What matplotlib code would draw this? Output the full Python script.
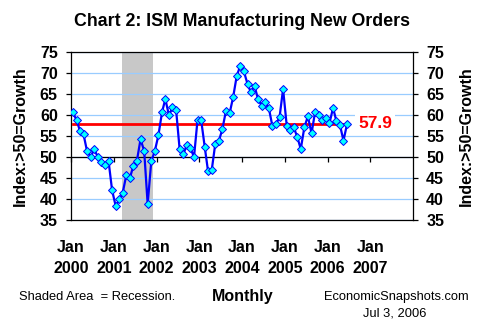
"""Chart 2: ISM Manufacturing New Orders (monthly, Jan 2000 - Jun 2006)."""

import numpy as np
import pandas as pd
import matplotlib
matplotlib.use("Agg")
import matplotlib.pyplot as plt

plt.rcParams["font.family"] = ["Liberation Sans", "DejaVu Sans"]

# ---- data ----
start_month = "2000-01"
new_orders = [
    60.6, 58.8, 56.3, 55.4, 51.4, 50.0, 51.9, 50.0, 48.7, 48.1, 49.0, 42.1,  # 2000
    38.3, 39.9, 41.4, 45.6, 44.9, 47.9, 49.1, 54.2, 51.5, 38.8, 49.0, 51.4,  # 2001
    55.2, 60.7, 63.8, 59.9, 61.8, 61.2, 51.9, 50.6, 52.9, 52.1, 50.0, 58.8,  # 2002
    58.8, 52.3, 46.6, 46.8, 53.0, 53.8, 56.6, 61.0, 60.4, 64.2, 69.3, 71.7,  # 2003
    70.4, 67.4, 65.4, 66.9, 63.8, 62.2, 63.0, 61.7, 57.3, 57.8, 59.5, 66.2,  # 2004
    57.5, 56.4, 57.1, 54.8, 51.9, 57.1, 59.7, 55.6, 60.8, 60.0, 58.8, 59.2,  # 2005
    58.0, 61.7, 58.6, 57.6, 53.9, 57.9,                                      # 2006
]
latest_value = 57.9
recession = ("2001-03-16", "2001-11-30")
year_ticks = list(range(2000, 2008))
tick_labels = [f"Jan\n{y}" for y in year_ticks]
y_ticks = list(range(35, 80, 5))

dates = pd.date_range(start_month, periods=len(new_orders), freq="MS") + pd.Timedelta(days=16)

# ---- figure ----
fig = plt.figure(figsize=(4.85, 3.35), dpi=100)
ax = fig.add_axes([71 / 485, 1 - 220 / 335, (413 - 71) / 485, (220 - 52) / 335])

ax.set_xlim(pd.Timestamp("2000-01-01"), pd.Timestamp("2008-01-01"))
ax.set_ylim(35, 75)

ax.axvspan(pd.Timestamp(recession[0]), pd.Timestamp(recession[1]),
           color="#C8C8C8", lw=0, zorder=0)

ax.set_yticks(y_ticks)
ax.yaxis.grid(True, color="#99CCFF", lw=0.9, zorder=1)
ax.set_axisbelow(True)
ax.axhline(50, color="black", lw=0.9, zorder=2)

ax.plot([dates[0], dates[-1]], [latest_value, latest_value],
        color="#FF0000", lw=2.0, zorder=3)
ax.plot(dates, new_orders, color="#0000FF", lw=1.6, marker="D", ms=4.3,
        mfc="#00FFFF", mec="#0000FF", mew=0.7, zorder=4)

ax.text(pd.Timestamp("2007-02-10"), latest_value, f"{latest_value:.1f}",
        color="#FF0000", fontsize=12.5, fontweight="bold", ha="center", va="center",
        bbox=dict(facecolor="white", edgecolor="none", pad=2.4), zorder=5)

# x axis: labels below the frame, ticks on the 50 line
xt = [pd.Timestamp(f"{y}-01-01") for y in year_ticks]
ax.set_xticks(xt)
ax.set_xticklabels(tick_labels, fontsize=11.5, fontweight="bold", linespacing=1.45)
ax.tick_params(axis="x", length=0, pad=14.5)

sec = ax.secondary_xaxis(0.375)
sec.set_xticks(xt)
sec.set_xticklabels([])
sec.tick_params(axis="x", direction="out", length=3.5, width=0.9, color="black")
sec.spines["bottom"].set_visible(False)

ax.tick_params(axis="y", left=True, right=True, labelleft=True, labelright=True,
               direction="out", length=3.5, width=0.9, pad=6, labelsize=11.5)
for lab in ax.get_yticklabels():
    lab.set_fontweight("bold")

for sp in ax.spines.values():
    sp.set_linewidth(0.9)
    sp.set_color("black")

# ---- texts ----
fig.text(0.5, 1 - 22 / 335, "Chart 2: ISM Manufacturing New Orders",
         ha="center", va="center", fontsize=12.8, fontweight="bold")
fig.text(20 / 485, 1 - 136 / 335, "Index:>50=Growth", rotation=90,
         ha="center", va="center", fontsize=11.5, fontweight="bold")
fig.text(466 / 485, 1 - 136 / 335, "Index:>50=Growth", rotation=90,
         ha="center", va="center", fontsize=11.5, fontweight="bold")
fig.text(19 / 485, 1 - 297 / 335, "Shaded Area  = Recession.",
         ha="left", va="center", fontsize=9.3)
fig.text(243 / 485, 1 - 297 / 335, "Monthly",
         ha="center", va="center", fontsize=11.5, fontweight="bold")
fig.text(469 / 485, 1 - 297 / 335, "EconomicSnapshots.com",
         ha="right", va="center", fontsize=9.3)
fig.text(395 / 485, 1 - 313 / 335, "Jul 3, 2006",
         ha="center", va="center", fontsize=9.3)

fig.savefig("out.png", dpi=100)
